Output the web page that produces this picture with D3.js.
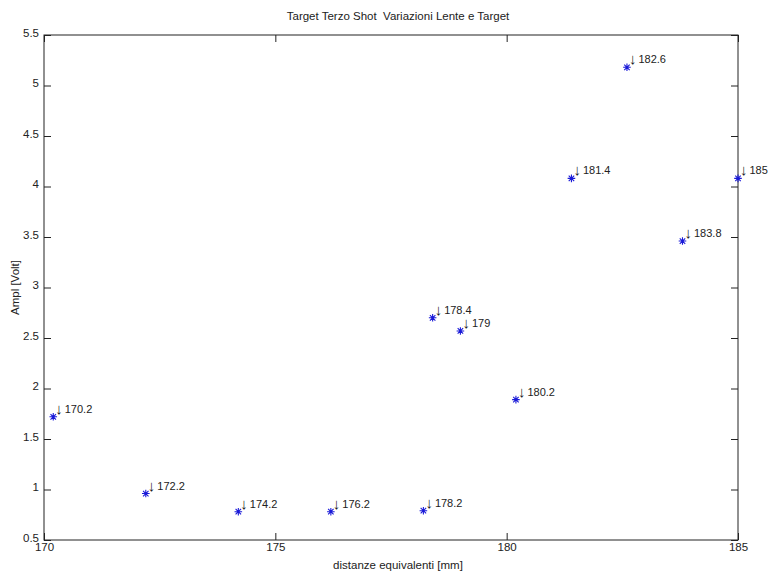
<!DOCTYPE html>
<html>
<head>
<meta charset="utf-8">
<script src="https://cdn.jsdelivr.net/npm/d3@7"></script>
<style>
  body { margin: 0; background: #fff; }
  text { font-family: "Liberation Sans", Arial, sans-serif; fill: #222; white-space: pre; }
</style>
</head>
<body>
<svg id="chart" width="768" height="573"></svg>
<script>
// Measured distances [mm] and amplitudes [Volt]
const distances = [170.2, 172.2, 174.2, 176.2, 178.2, 178.4, 179, 180.2, 181.4, 182.6, 183.8, 185];
const amplitudes = [1.72, 0.96, 0.78, 0.78, 0.79, 2.70, 2.57, 1.89, 4.08, 5.18, 3.46, 4.08];
const pointLabels = ["170.2", "172.2", "174.2", "176.2", "178.2", "178.4", "179", "180.2", "181.4", "182.6", "183.8", "185"];
const xTicks = [170, 175, 180, 185];
const yTicks = [0.5, 1, 1.5, 2, 2.5, 3, 3.5, 4, 4.5, 5, 5.5];

const svg = d3.select("#chart");
const margin = { left: 44, right: 30, top: 35, bottom: 33 };
const W = 768, H = 573;
const x = d3.scaleLinear().domain([170, 185]).range([margin.left, W - margin.right]);
const y = d3.scaleLinear().domain([0.5, 5.5]).range([H - margin.bottom, margin.top]);

const fs = 11.5;
const tickLen = 7;
const axisStyle = g => {
  g.select(".domain").remove();
  g.selectAll("line").attr("stroke", "#222");
  g.selectAll("text").attr("font-size", fs).attr("fill", "#222");
};

// Bottom / left axes with inward ticks
svg.append("g").attr("transform", `translate(0,${y(0.5)})`)
  .call(d3.axisBottom(x).tickValues(xTicks).tickFormat(d3.format("d")).tickSizeInner(-tickLen).tickSizeOuter(0).tickPadding(3))
  .call(axisStyle);
svg.append("g").attr("transform", `translate(${x(170)},0)`)
  .call(d3.axisLeft(y).tickValues(yTicks).tickFormat(d => String(d)).tickSizeInner(-tickLen).tickSizeOuter(0).tickPadding(5))
  .call(axisStyle)
  .call(g => g.selectAll("text").attr("dy", "0.1em"));
// Top / right mirror ticks
svg.append("g").attr("transform", `translate(0,${y(5.5)})`)
  .call(d3.axisTop(x).tickValues(xTicks).tickFormat("").tickSizeInner(-tickLen).tickSizeOuter(0))
  .call(axisStyle);
svg.append("g").attr("transform", `translate(${x(185)},0)`)
  .call(d3.axisRight(y).tickValues(yTicks).tickFormat("").tickSizeInner(-tickLen).tickSizeOuter(0))
  .call(axisStyle);

// Axes box
svg.append("rect")
  .attr("x", x(170)).attr("y", y(5.5))
  .attr("width", x(185) - x(170)).attr("height", y(0.5) - y(5.5))
  .attr("fill", "none").attr("stroke", "#222").attr("stroke-width", 1);

// Asterisk markers
const pts = distances.map((d, i) => ({ d, a: amplitudes[i], label: pointLabels[i] }));
const starPath = (() => {
  const r = 3.8, k = r * 0.72;
  return `M${-r},0L${r},0M0,${-r}L0,${r}M${-k},${-k}L${k},${k}M${-k},${k}L${k},${-k}`;
})();
svg.append("g").selectAll("path").data(pts).join("path")
  .attr("transform", p => `translate(${x(p.d)},${y(p.a)})`)
  .attr("d", starPath)
  .attr("stroke", "#1a1ad8").attr("stroke-width", 1.1).attr("fill", "none");

// Point annotations: down arrow followed by the distance
const ann = svg.append("g").selectAll("text").data(pts).join("text")
  .attr("x", p => x(p.d) + 2)
  .attr("y", p => y(p.a) - 3)
  .attr("font-size", 11);
ann.append("tspan")
  .attr("font-size", 15)
  .text("\u2193");
ann.append("tspan")
  .attr("dx", 2)
  .attr("dy", -1)
  .attr("font-size", 11)
  .text(p => p.label);

// Title and axis labels
svg.append("text").attr("x", 398).attr("y", 20).attr("text-anchor", "middle")
  .attr("font-size", fs).text("Target Terzo Shot  Variazioni Lente e Target");
svg.append("text").attr("x", 398).attr("y", 569).attr("text-anchor", "middle")
  .attr("font-size", fs).text("distanze equivalenti [mm]");
svg.append("text").attr("transform", `translate(19,${(y(0.5) + y(5.5)) / 2}) rotate(-90)`)
  .attr("text-anchor", "middle").attr("font-size", fs).text("Ampl [Volt]");
</script>
</body>
</html>
